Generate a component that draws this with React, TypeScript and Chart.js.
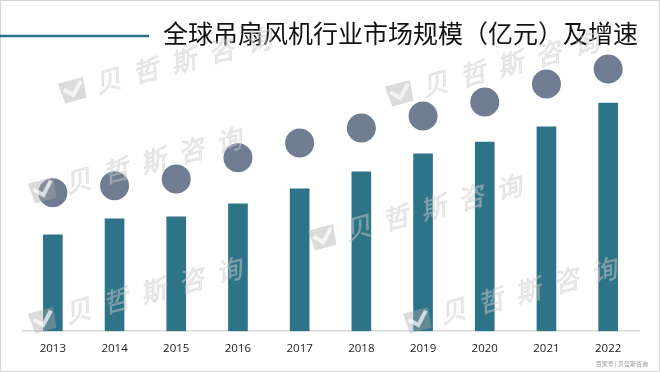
import React, { useEffect, useRef } from "react";
import { Chart, registerables } from "chart.js";

Chart.register(...registerables);

const titleText = "全球吊扇风机行业市场规模（亿元）及增速";
const years = ["2013", "2014", "2015", "2016", "2017", "2018", "2019", "2020", "2021", "2022"];
const marketSize = [48.0, 55.9, 56.9, 63.4, 70.9, 79.3, 88.3, 94.2, 101.7, 113.6];
const growthMarker = [68.9, 72.4, 75.8, 86.3, 93.7, 101.2, 107.2, 114.1, 123.1, 130.5];
const watermarkText = ["贝", "哲", "斯", "咨", "询"];
const footerText = "百家号 | 贝哲斯咨询";

const watermarkAnchors: [number, number][] = [
  [73, 90],
  [43, 190],
  [43, 320],
  [400, 93],
  [323, 237],
  [418, 320],
];

const decorPlugin = {
  id: "decor",
  beforeDraw(chart: any) {
    const ctx = chart.ctx;
    ctx.save();
    ctx.fillStyle = "#ffffff";
    ctx.fillRect(0, 0, chart.width, chart.height);
    ctx.restore();
  },
  afterDraw(chart: any) {
    const ctx = chart.ctx;
    ctx.save();
    // frame
    ctx.strokeStyle = "#d4d4d4";
    ctx.lineWidth = 1;
    ctx.strokeRect(0.5, 0.5, chart.width - 1, chart.height - 1);
    // title line
    ctx.strokeStyle = "#2f6f8a";
    ctx.lineWidth = 2.5;
    ctx.beginPath();
    ctx.moveTo(0, 36);
    ctx.lineTo(149, 36);
    ctx.stroke();
    // title
    ctx.fillStyle = "#111111";
    ctx.font = '25px "Noto Sans CJK SC"';
    ctx.textAlign = "right";
    ctx.textBaseline = "middle";
    ctx.fillText(titleText, 638, 33);
    // watermarks
    const ang = -15 * Math.PI / 180;
    for (const [x, y] of watermarkAnchors) {
      ctx.save();
      ctx.translate(x, y);
      ctx.rotate(ang);
      // logo
      ctx.fillStyle = "rgba(170,170,170,0.42)";
      ctx.beginPath();
      ctx.moveTo(-13, -10);
      ctx.lineTo(13, -10);
      ctx.lineTo(11, 11);
      ctx.lineTo(-11, 11);
      ctx.closePath();
      ctx.fill();
      ctx.strokeStyle = "rgba(255,255,255,0.7)";
      ctx.lineWidth = 4;
      ctx.beginPath();
      ctx.moveTo(-9, -3);
      ctx.lineTo(-1, 5);
      ctx.lineTo(10, -7);
      ctx.stroke();
      // text
      ctx.font = 'italic 26px "Noto Sans CJK SC"';
      ctx.textAlign = "center";
      ctx.textBaseline = "middle";
      ctx.fillStyle = "rgba(215,215,215,0.45)";
      ctx.strokeStyle = "rgba(175,175,175,0.3)";
      ctx.lineWidth = 0.8;
      watermarkText.forEach((ch, i) => {
        const tx = 36 + i * 39;
        ctx.fillText(ch, tx, 0);
        ctx.strokeText(ch, tx, 0);
      });
      ctx.restore();
    }
    // footer
    ctx.fillStyle = "#9a9a9a";
    ctx.font = '6px "Noto Sans CJK SC"';
    ctx.textAlign = "right";
    ctx.textBaseline = "middle";
    ctx.fillText(footerText, 648, 364);
    ctx.restore();
  },
};

export default function App() {
  const ref = useRef<HTMLCanvasElement>(null);
  useEffect(() => {
    document.body.style.margin = "0";
    const canvas = ref.current!;
    const chart = new Chart(canvas, {
      data: {
        labels: years,
        datasets: [
          {
            type: "line",
            label: "增速",
            data: growthMarker,
            yAxisID: "y2",
            showLine: false,
            pointRadius: 14.5,
            pointHoverRadius: 14.5,
            pointBackgroundColor: "#6f7c92",
            pointBorderWidth: 0,
            borderColor: "#6f7c92",
          },
          {
            type: "bar",
            label: "市场规模",
            data: marketSize,
            yAxisID: "y",
            backgroundColor: "#2e7489",
            barThickness: 19,
          },
        ],
      },
      options: {
        responsive: false,
        animation: false,
        devicePixelRatio: 1,
        layout: { padding: { left: 22, right: 21, top: 50, bottom: 13 } },
        plugins: { legend: { display: false }, title: { display: false }, tooltip: { enabled: false } },
        scales: {
          x: {
            grid: { display: false },
            border: { display: true, color: "#d9d9d9", width: 1.5 },
            ticks: { color: "#222222", font: { family: '"Open Sans"', size: 11.5 }, padding: 3 },
          },
          y: { display: false, min: 0, max: 140 },
          y2: { display: false, min: 0, max: 140 },
        },
      },
      plugins: [decorPlugin],
    } as any);
    return () => chart.destroy();
  }, []);
  return (
    <div style={{ position: "fixed", left: 0, top: 0, width: 660, height: 372 }}>
      <canvas ref={ref} width={660} height={372} style={{ width: 660, height: 372, display: "block" }} />
    </div>
  );
}
